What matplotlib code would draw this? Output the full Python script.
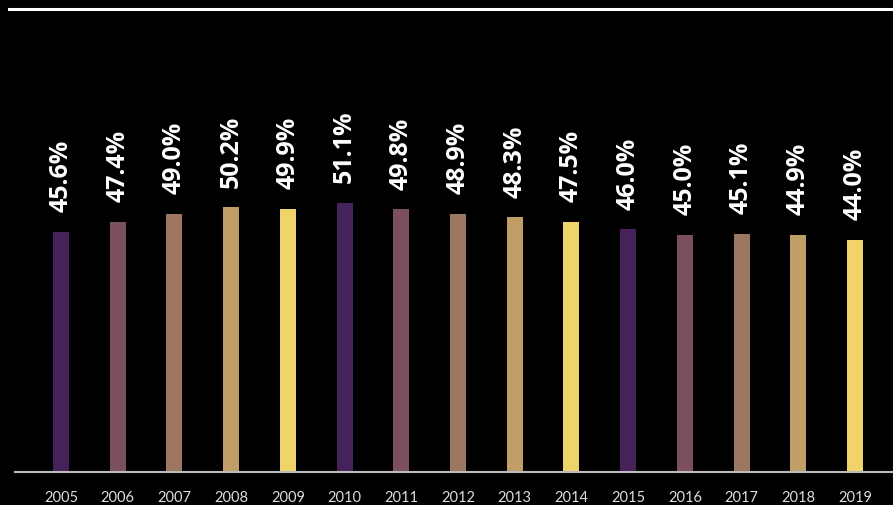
import matplotlib
matplotlib.use("Agg")
import matplotlib.pyplot as plt
from matplotlib.lines import Line2D

plt.rcParams["font.family"] = ["Lato", "DejaVu Sans"]

YEARS = ["2005", "2006", "2007", "2008", "2009", "2010", "2011", "2012",
         "2013", "2014", "2015", "2016", "2017", "2018", "2019"]
SHARES = [45.6, 47.4, 49.0, 50.2, 49.9, 51.1, 49.8, 48.9, 48.3, 47.5,
          46.0, 45.0, 45.1, 44.9, 44.0]
PALETTE = ["#45235a", "#7b4f5e", "#9c7660", "#c19e68", "#f0d46a"]

figure = plt.figure(figsize=(8.93, 5.06), dpi=100, facecolor="black")
axis = figure.add_axes([15 / 893, 33.5 / 506, 878 / 893, 462.5 / 506])
axis.set_facecolor("black")

positions = list(range(len(YEARS)))
colors = [PALETTE[i % len(PALETTE)] for i in positions]
axis.bar(positions, SHARES, width=0.28, color=colors, zorder=2)

for position, value in zip(positions, SHARES):
    axis.annotate(f"{value:.1f}%", xy=(position, value), xytext=(0, 15),
                  textcoords="offset points", rotation=90, ha="center", va="bottom",
                  color="white", fontsize=18, fontweight="bold",
                  family=["Open Sans", "DejaVu Sans"])

axis.set_xlim(-0.811, 14.67)
axis.set_ylim(0, 87.9)
axis.set_xticks(positions)
axis.set_xticklabels(YEARS)
axis.tick_params(axis="x", length=0, pad=13, colors="#dddddd", labelsize=10.5)
axis.set_yticks([])
for side in ["top", "left", "right"]:
    axis.spines[side].set_visible(False)
axis.spines["bottom"].set_color("#bbbbbb")
axis.spines["bottom"].set_linewidth(1.5)

# white rule across the top of the figure
figure.add_artist(Line2D([9 / 893, 1.0], [1 - 10 / 506, 1 - 10 / 506],
                         color="white", linewidth=2.2, transform=figure.transFigure))

figure.savefig("out.png", dpi=100, facecolor="black")
